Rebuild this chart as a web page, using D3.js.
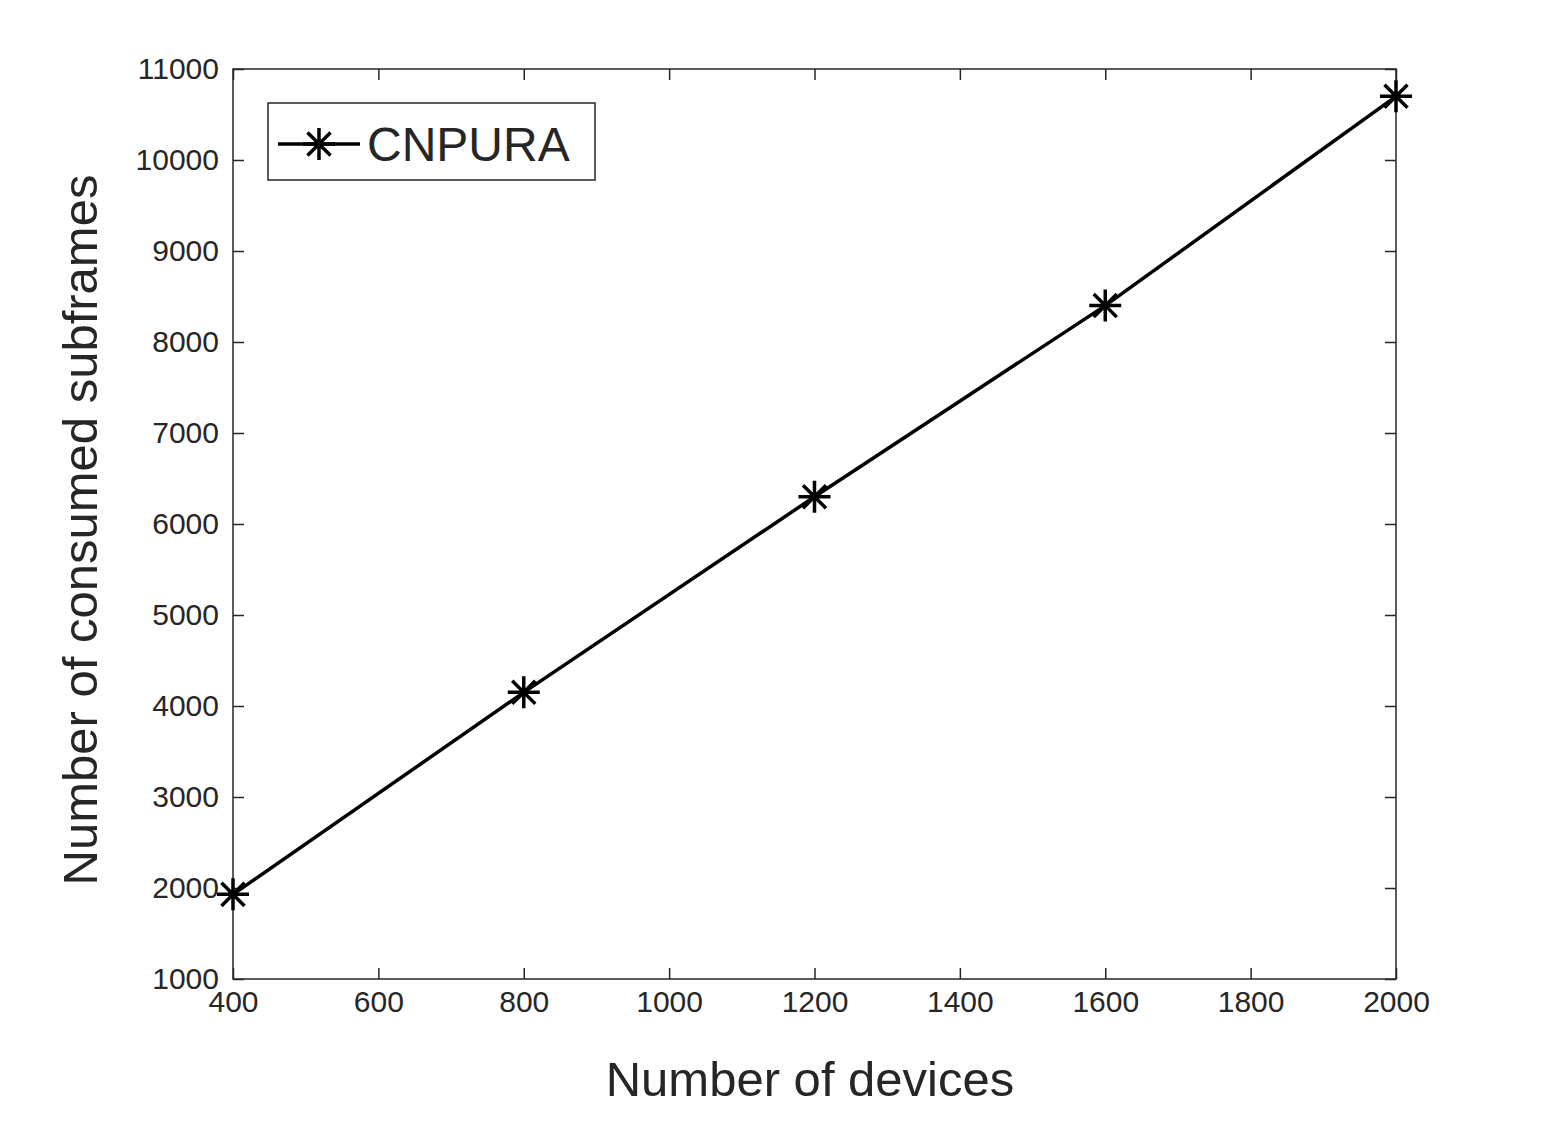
<!DOCTYPE html>
<html><head><meta charset="utf-8">
<script src="https://cdn.jsdelivr.net/npm/d3@7"></script>
<style>body{margin:0;background:#fff}text{font-family:Arial,"Liberation Sans",sans-serif;fill:#262626}</style>
</head><body><svg id="c" width="1546" height="1146"></svg>
<script>
const devices = [400, 800, 1200, 1600, 2000];
const subframes = [1930, 4150, 6300, 8400, 10700];
const xTicks = [400, 600, 800, 1000, 1200, 1400, 1600, 1800, 2000];
const yTicks = [1000, 2000, 3000, 4000, 5000, 6000, 7000, 8000, 9000, 10000, 11000];

const svg = d3.select("#c");
const L = 233, R = 1396, T = 69, B = 979;
const x = d3.scaleLinear().domain([400, 2000]).range([L, R]);
const y = d3.scaleLinear().domain([1000, 11000]).range([B, T]);
const f = d3.format("d");

svg.append("rect").attr("x", L).attr("y", T).attr("width", R - L).attr("height", B - T)
  .attr("fill", "#fff").attr("stroke", "#262626").attr("stroke-width", 1.5);

const fs = "30px";
const ax = [
  [d3.axisBottom(x).tickValues(xTicks).tickSize(-11).tickPadding(12).tickFormat(f), `translate(0,${B})`],
  [d3.axisTop(x).tickValues(xTicks).tickSize(-11).tickFormat(""), `translate(0,${T})`],
  [d3.axisLeft(y).tickValues(yTicks).tickSize(-11).tickPadding(14).tickFormat(f), `translate(${L},0)`],
  [d3.axisRight(y).tickValues(yTicks).tickSize(-11).tickFormat(""), `translate(${R},0)`]
];
ax.forEach(([a, tr]) => {
  const g = svg.append("g").attr("transform", tr).call(a);
  g.select(".domain").remove();
  g.selectAll("line").attr("stroke", "#262626").attr("stroke-width", 1.5);
  g.selectAll("text").style("font-size", fs).attr("fill", "#262626");
});

svg.append("text").attr("x", 810).attr("y", 1096).attr("text-anchor", "middle")
  .style("font-size", "49px").text("Number of devices");
svg.append("text").attr("transform", `translate(97,530) rotate(-90)`)
  .attr("text-anchor", "middle").style("font-size", "49px").text("Number of consumed subframes");

const pts = devices.map((d, i) => [x(d), y(subframes[i])]);
svg.append("path").attr("d", d3.line()(pts)).attr("fill", "none")
  .attr("stroke", "#000").attr("stroke-width", 3.5);

function star(g, cx, cy, r) {
  const d = r * 0.72;
  const p = `M${cx - r},${cy}L${cx + r},${cy}M${cx},${cy - r}L${cx},${cy + r}` +
    `M${cx - d},${cy - d}L${cx + d},${cy + d}M${cx - d},${cy + d}L${cx + d},${cy - d}`;
  g.append("path").attr("d", p).attr("stroke", "#000").attr("stroke-width", 3.5).attr("fill", "none");
}
pts.forEach(p => star(svg, p[0], p[1], 16));

// legend
svg.append("rect").attr("x", 268).attr("y", 103).attr("width", 327).attr("height", 77)
  .attr("fill", "#fff").attr("stroke", "#262626").attr("stroke-width", 1.5);
svg.append("line").attr("x1", 278).attr("x2", 360).attr("y1", 144).attr("y2", 144)
  .attr("stroke", "#000").attr("stroke-width", 3.5);
star(svg, 319, 144, 16);
svg.append("text").attr("x", 367).attr("y", 161).style("font-size", "48px").attr("fill", "#000").text("CNPURA");
</script></body></html>
